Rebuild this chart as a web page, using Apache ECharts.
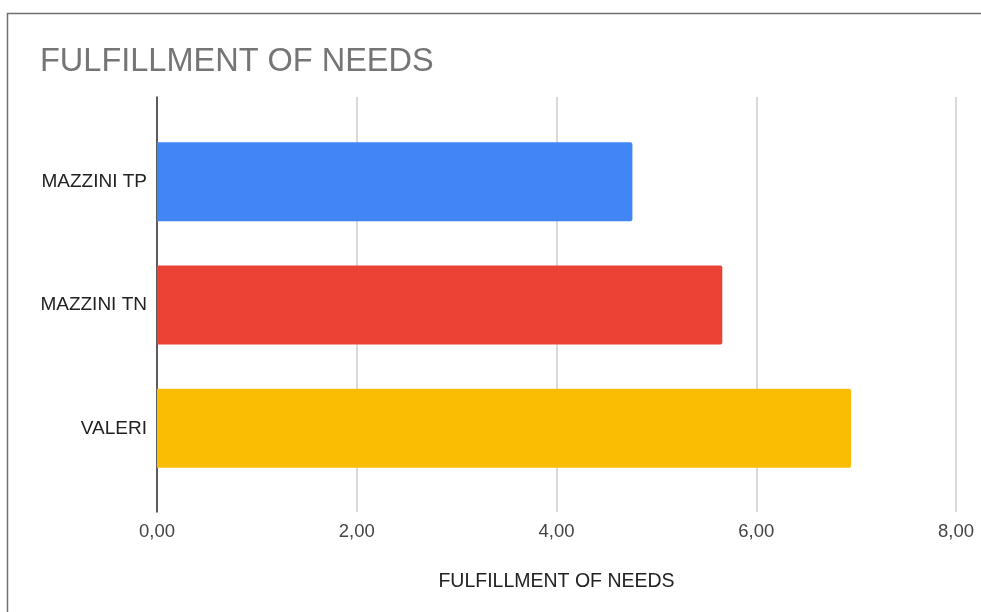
<!DOCTYPE html>
<html><head><meta charset="utf-8">
<script src="https://cdn.jsdelivr.net/npm/echarts@6/dist/echarts.min.js"></script>
<style>html,body{margin:0;padding:0;background:#fff}#c{width:981px;height:612px}</style>
</head><body><div id="c"></div>
<script>
var categories = ['MAZZINI TP', 'MAZZINI TN', 'VALERI'];
var values = [4.76, 5.66, 6.95];
var colors = ['#4285f4', '#ea4335', '#fbbc04'];
var xTicks = [0, 2, 4, 6, 8];
var chartTitle = 'FULFILLMENT OF NEEDS';
var axisTitle = 'FULFILLMENT OF NEEDS';

var chart = echarts.init(document.getElementById('c'));
var font = 'Liberation Sans, Arial, sans-serif';
function fmt(v){ return v.toFixed(2).replace('.', ','); }
chart.setOption({
  animation: false,
  graphic: [{
    type: 'rect', shape: {x: 7.5, y: 13.5, width: 1100, height: 700},
    style: {fill: 'none', stroke: '#6f6f6f', lineWidth: 1.5}, silent: true
  }],
  title: {
    text: chartTitle, left: 35, top: 41,
    textStyle: {fontFamily: font, fontSize: 32.5, fontWeight: 'normal', color: '#757575'}
  },
  grid: [
    {left: 157, right: 25, top: 97, bottom: 100, containLabel: false},
    {left: 157, right: 25, top: 120, bottom: 122, containLabel: false}
  ],
  xAxis: [{
    gridIndex: 0, type: 'value', min: xTicks[0], max: xTicks[xTicks.length-1], interval: 2,
    axisLine: {show: false}, axisTick: {show: false},
    splitLine: {show: true, lineStyle: {color: '#cccccc', width: 1.5}},
    axisLabel: {formatter: fmt, fontFamily: font, fontSize: 18.5, color: '#444', margin: 10},
    name: axisTitle, nameLocation: 'middle', nameGap: 60,
    nameTextStyle: {fontFamily: font, fontSize: 19.5, color: '#222'}
  }, {
    gridIndex: 1, type: 'value', min: xTicks[0], max: xTicks[xTicks.length-1], interval: 2,
    show: false
  }],
  yAxis: [{
    gridIndex: 0, type: 'value', min: 0, max: 1,
    axisLine: {show: true, onZero: false, lineStyle: {color: '#333', width: 1.5}},
    axisTick: {show: false}, axisLabel: {show: false}, splitLine: {show: false}
  }, {
    gridIndex: 1, type: 'category', data: categories, inverse: true,
    axisLine: {show: false}, axisTick: {show: false},
    axisLabel: {fontFamily: font, fontSize: 19, color: '#222', margin: 10}
  }],
  series: [{
    type: 'bar', xAxisIndex: 1, yAxisIndex: 1,
    data: values.map(function(v, i){ return {value: v, itemStyle: {color: colors[i]}}; }),
    barWidth: 79,
    itemStyle: {borderRadius: [0, 2, 2, 0]}
  }]
});
</script></body></html>
